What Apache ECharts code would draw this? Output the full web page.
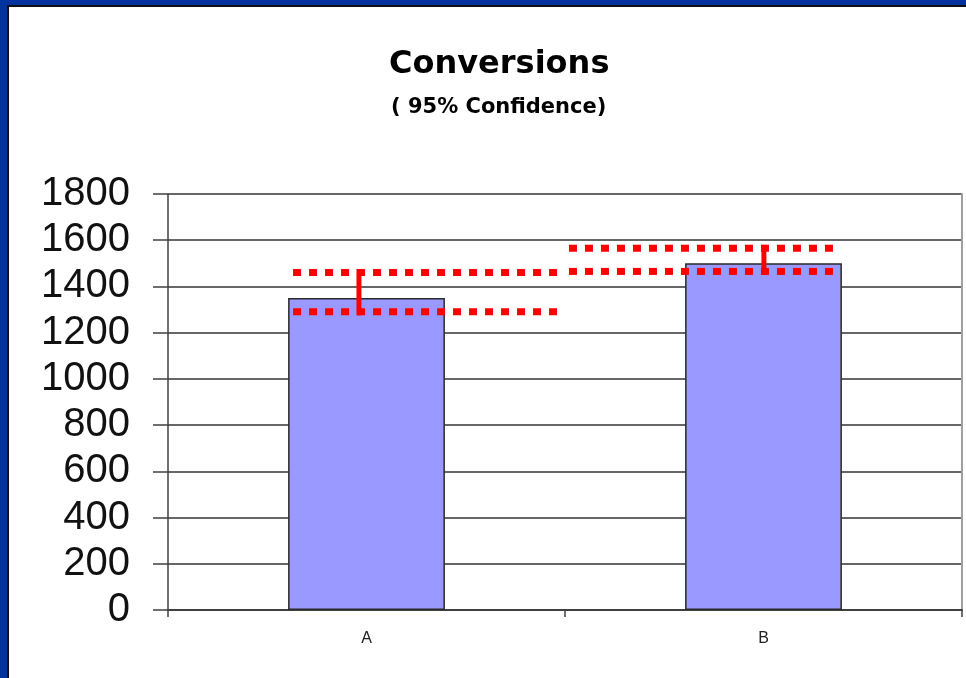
<!DOCTYPE html>
<html>
<head>
<meta charset="utf-8">
<script src="https://cdn.jsdelivr.net/npm/echarts@6/dist/echarts.min.js"></script>
<style>
  html, body { margin: 0; padding: 0; background: #ffffff; }
  #chart { width: 966px; height: 678px; }
</style>
</head>
<body>
<div id="chart"></div>
<script>
// Conversion counts per variant, with their 95% confidence bounds
const categories = ['A', 'B'];
const conversions = [1350, 1500];
const confLow = [1290, 1465];
const confHigh = [1460, 1565];
const yTicks = [0, 200, 400, 600, 800, 1000, 1200, 1400, 1600, 1800];

const chart = echarts.init(document.getElementById('chart'), null, { renderer: 'canvas' });

// Horizontal reach of the dotted bound lines, as fractions of a category band
const dottedReach = [[-0.185, 0.5], [-0.49, 0.19]];
const whiskerShift = [-0.019, 0.001];

const boundsData = categories.map((c, i) => [i, confLow[i], confHigh[i]]);

chart.setOption({
  animation: false,
  backgroundColor: '#ffffff',
  title: [
    {
      text: 'Conversions',
      left: 384,
      top: 42,
      textStyle: { fontFamily: 'DejaVu Sans', fontWeight: 'bold', fontSize: 32, color: '#000', lineHeight: 36 }
    },
    {
      text: '( 95% Confidence)',
      left: 386,
      top: 91,
      textStyle: { fontFamily: 'DejaVu Sans', fontWeight: 'bold', fontSize: 21, color: '#000', lineHeight: 24 }
    }
  ],
  grid: { left: 168, right: 4, top: 194, bottom: 68, containLabel: false },
  xAxis: {
    type: 'category',
    data: categories,
    boundaryGap: true,
    axisLine: { lineStyle: { color: '#404040', width: 2 } },
    axisTick: { show: true, length: 7, inside: false, lineStyle: { color: '#404040', width: 1.5 } },
    axisLabel: { fontFamily: 'Liberation Sans', fontSize: 16, color: '#222', margin: 21 },
    splitLine: { show: false }
  },
  yAxis: [
    {
      type: 'value',
      min: 0,
      max: 1800,
      interval: 200,
      axisLine: { show: true, lineStyle: { color: '#404040', width: 1.5 } },
      axisTick: { show: true, length: 15, inside: false, lineStyle: { color: '#404040', width: 1.5 } },
      axisLabel: {
        fontFamily: 'Liberation Sans',
        fontSize: 40,
        color: '#111',
        margin: 38,
        formatter: (v) => yTicks.includes(v) ? String(v) : ''
      },
      splitLine: { show: true, lineStyle: { color: '#333333', width: 1.5 } }
    },
    {
      type: 'value',
      position: 'right',
      min: 0,
      max: 1800,
      interval: 200,
      axisLine: { show: true, lineStyle: { color: '#a0a0a0', width: 2 } },
      axisTick: { show: false },
      axisLabel: { show: false },
      splitLine: { show: false }
    }
  ],
  series: [
    {
      type: 'bar',
      data: conversions,
      barWidth: '39.5%',
      itemStyle: { color: '#9999FF', borderColor: '#2a2a2a', borderWidth: 1.5 },
      z: 2
    },
    {
      type: 'custom',
      data: boundsData,
      z: 5,
      renderItem: function (params, api) {
        const i = api.value(0);
        const lowPt = api.coord([i, api.value(1)]);
        const highPt = api.coord([i, api.value(2)]);
        const band = api.size([1, 0])[0];
        const cx = lowPt[0];
        const reach = dottedReach[i];
        const x0 = cx + reach[0] * band;
        const x1 = cx + reach[1] * band;
        const wx = cx + whiskerShift[i] * band;
        const dotted = { stroke: '#FF0000', lineWidth: 7, lineDash: [8, 8], lineCap: 'butt' };
        return {
          type: 'group',
          children: [
            { type: 'line', shape: { x1: x0, y1: highPt[1], x2: x1, y2: highPt[1] }, style: dotted },
            { type: 'line', shape: { x1: x0, y1: lowPt[1], x2: x1, y2: lowPt[1] }, style: dotted },
            {
              type: 'line',
              shape: { x1: wx, y1: highPt[1] - 3.5, x2: wx, y2: lowPt[1] + 3.5 },
              style: { stroke: '#FF0000', lineWidth: 5, lineCap: 'butt' }
            }
          ]
        };
      }
    }
  ],
  graphic: [
    { type: 'rect', shape: { x: 0, y: 0, width: 966, height: 5 }, style: { fill: '#0033A0' }, z: 100 },
    { type: 'rect', shape: { x: 0, y: 0, width: 7, height: 678 }, style: { fill: '#0033A0' }, z: 100 },
    { type: 'line', shape: { x1: 7, y1: 6, x2: 966, y2: 6 }, style: { stroke: '#111', lineWidth: 2 }, z: 100 },
    { type: 'line', shape: { x1: 8, y1: 5, x2: 8, y2: 678 }, style: { stroke: '#111', lineWidth: 2 }, z: 100 }
  ]
});
</script>
</body>
</html>
